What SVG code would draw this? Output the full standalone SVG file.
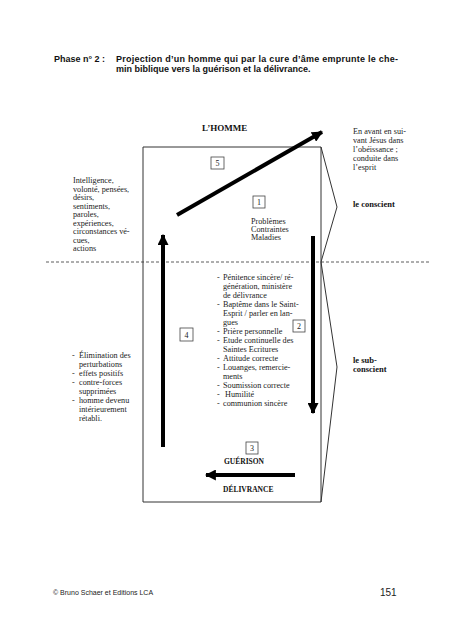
<svg xmlns="http://www.w3.org/2000/svg" width="452" height="640" viewBox="0 0 452 640">
<style>
.t{font-family:"Liberation Serif","Times New Roman",serif;font-size:8.2px;fill:#222}
.tb{font-family:"Liberation Serif","Times New Roman",serif;font-size:8.5px;font-weight:bold;fill:#111}
.h{font-family:"Liberation Sans",Arial,sans-serif;font-size:9px;font-weight:bold;fill:#111}
.f{font-family:"Liberation Sans",Arial,sans-serif;fill:#222}
.num rect{fill:#fff;stroke:#444;stroke-width:0.8}
.num text{font-family:"Liberation Serif","Times New Roman",serif;font-size:8px;fill:#222;text-anchor:middle}
.frame{fill:none;stroke:#333;stroke-width:1}
.arr{stroke:#000;stroke-width:4;fill:none}
</style>
<defs>
<marker id="ah" viewBox="0 0 10 10" refX="9" refY="5" markerWidth="11" markerHeight="11" markerUnits="userSpaceOnUse" orient="auto">
<path d="M0,0 L10,5 L0,10 z" fill="#000"/>
</marker>
</defs>
<rect width="452" height="640" fill="#fff"/>

<g id="title">
<text class="h" x="54" y="62">Phase n° 2 :</text>
<text class="h" x="116" y="62" textLength="282" lengthAdjust="spacing">Projection d’un homme qui par la cure d’âme emprunte le che-</text>
<text class="h" x="116" y="72">min biblique vers la guérison et la délivrance.</text>
</g>

<g id="homme">
<text class="tb" x="202" y="131" style="font-size:9px">L’HOMME</text>
<path class="frame" d="M143,147 H321 V502 H143 Z"/>
<path class="frame" d="M321,147 L337,207 L321,262 L337,367 L321,502"/>
</g>

<line id="divider" x1="46" y1="262" x2="430" y2="262" stroke="#333" stroke-width="0.8" stroke-dasharray="3,2"/>

<g id="connectors">
<line class="arr" x1="177" y1="215" x2="322" y2="132" marker-end="url(#ah)"/>
<line class="arr" x1="163" y1="447" x2="163" y2="235" marker-end="url(#ah)"/>
<line class="arr" x1="313" y1="236" x2="313" y2="413" marker-end="url(#ah)"/>
<line class="arr" x1="295" y1="475" x2="206" y2="475" marker-end="url(#ah)"/>
</g>

<g id="n5" class="num"><rect x="211" y="157" width="13" height="12"/><text x="217.5" y="166">5</text></g>
<g id="n1" class="num"><rect x="253" y="196" width="12" height="12"/><text x="259" y="205">1</text></g>
<g id="n2" class="num"><rect x="293" y="320" width="12" height="12"/><text x="299" y="329">2</text></g>
<g id="n4" class="num"><rect x="180" y="328" width="13" height="13"/><text x="186.5" y="337.5">4</text></g>
<g id="n3" class="num"><rect x="246" y="442" width="12" height="12"/><text x="252" y="451">3</text></g>

<g id="problemes">
<text class="t" x="251" y="224">Problèmes</text>
<text class="t" x="251" y="232">Contraintes</text>
<text class="t" x="251" y="240">Maladies</text>
</g>

<g id="facultes">
<text class="t" x="73" y="183">Intelligence,</text>
<text class="t" x="73" y="191.5">volonté, pensées,</text>
<text class="t" x="73" y="200">désirs,</text>
<text class="t" x="73" y="208.5">sentiments,</text>
<text class="t" x="73" y="217">paroles,</text>
<text class="t" x="73" y="225.5">expériences,</text>
<text class="t" x="73" y="234">circonstances vé-</text>
<text class="t" x="73" y="242.5">cues,</text>
<text class="t" x="73" y="251">actions</text>
</g>

<g id="resultats">
<text class="t" x="72" y="358">-</text><text class="t" x="79" y="358">Élimination des</text>
<text class="t" x="79" y="367">perturbations</text>
<text class="t" x="72" y="376">-</text><text class="t" x="79" y="376">effets positifs</text>
<text class="t" x="72" y="385">-</text><text class="t" x="79" y="385">contre-forces</text>
<text class="t" x="79" y="394">supprimées</text>
<text class="t" x="72" y="403">-</text><text class="t" x="79" y="403">homme devenu</text>
<text class="t" x="79" y="412">intérieurement</text>
<text class="t" x="79" y="421">rétabli.</text>
</g>

<g id="moyens">
<text class="t" x="217" y="280">-</text><text class="t" x="223" y="280">Pénitence sincère/ ré-</text>
<text class="t" x="223" y="289">génération, ministère</text>
<text class="t" x="223" y="298">de délivrance</text>
<text class="t" x="217" y="307">-</text><text class="t" x="223" y="307">Baptême dans le Saint-</text>
<text class="t" x="223" y="316">Esprit / parler en lan-</text>
<text class="t" x="223" y="325">gues</text>
<text class="t" x="217" y="334">-</text><text class="t" x="223" y="334">Prière personnelle</text>
<text class="t" x="217" y="343">-</text><text class="t" x="223" y="343">Etude continuelle des</text>
<text class="t" x="223" y="352">Saintes Ecritures</text>
<text class="t" x="217" y="361">-</text><text class="t" x="223" y="361">Attitude correcte</text>
<text class="t" x="217" y="370">-</text><text class="t" x="223" y="370">Louanges, remercie-</text>
<text class="t" x="223" y="379">ments</text>
<text class="t" x="217" y="388">-</text><text class="t" x="223" y="388">Soumission correcte</text>
<text class="t" x="217" y="397">-</text><text class="t" x="225" y="397">Humilité</text>
<text class="t" x="217" y="406">-</text><text class="t" x="223" y="406">communion sincère</text>
</g>

<g id="guerison">
<text class="tb" x="224" y="464" style="font-size:7.5px">GUÉRISON</text>
<text class="tb" x="223" y="492" style="font-size:7.5px">DÉLIVRANCE</text>
</g>

<g id="droite">
<text class="t" x="353" y="134">En avant en sui-</text>
<text class="t" x="353" y="143">vant Jésus dans</text>
<text class="t" x="353" y="152">l’obéissance ;</text>
<text class="t" x="353" y="161">conduite dans</text>
<text class="t" x="353" y="170">l’esprit</text>
<text class="tb" x="353" y="207">le conscient</text>
<text class="tb" x="353" y="363">le sub-</text>
<text class="tb" x="353" y="372">conscient</text>
</g>

<g id="footer">
<text class="f" x="53" y="595" style="font-size:7px">© Bruno Schaer et Editions LCA</text>
<text class="f" x="380" y="596" style="font-size:10px">151</text>
</g>
</svg>
